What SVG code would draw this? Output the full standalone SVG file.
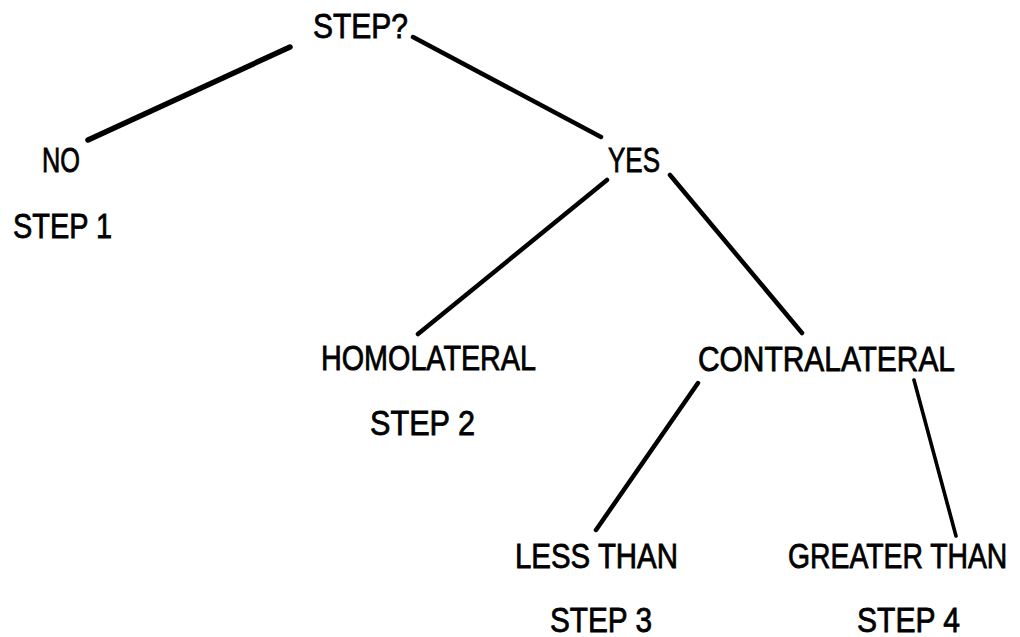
<svg xmlns="http://www.w3.org/2000/svg" width="1020" height="637" viewBox="0 0 1020 637">
<style>
.t{font-family:"Liberation Sans",Arial,sans-serif;font-size:35px;fill:#000;stroke:#000;stroke-width:0.8px}
.c line{stroke:#000;stroke-linecap:round;fill:none}
.w5{stroke-width:5.5}
.w4{stroke-width:4.5}
.w3{stroke-width:3.6}
</style>
<rect width="1020" height="637" fill="#fff"/>
<g id="connectors" class="c">
<line class="w5" x1="290" y1="47" x2="88" y2="140"/>
<line class="w4" x1="413" y1="37" x2="601" y2="137"/>
<line class="w4" x1="607" y1="180" x2="418" y2="334"/>
<line class="w4" x1="670" y1="175" x2="802" y2="333"/>
<line class="w4" x1="698" y1="383" x2="596" y2="530"/>
<line class="w3" x1="914" y1="380" x2="956" y2="536"/>
</g>
<g id="step-q"><text class="t" x="313" y="38" textLength="95" lengthAdjust="spacingAndGlyphs">STEP?</text></g>
<g id="no"><text class="t" x="42" y="172" textLength="38" lengthAdjust="spacingAndGlyphs">NO</text>
<text class="t" x="13" y="238" textLength="99" lengthAdjust="spacingAndGlyphs">STEP 1</text></g>
<g id="yes"><text class="t" x="608" y="172" textLength="52" lengthAdjust="spacingAndGlyphs">YES</text></g>
<g id="homolateral"><text class="t" x="321" y="370" textLength="215" lengthAdjust="spacingAndGlyphs">HOMOLATERAL</text>
<text class="t" x="370" y="435" textLength="105" lengthAdjust="spacingAndGlyphs">STEP 2</text></g>
<g id="contralateral"><text class="t" x="698" y="371" textLength="257" lengthAdjust="spacingAndGlyphs">CONTRALATERAL</text></g>
<g id="less-than"><text class="t" x="515" y="568" textLength="163" lengthAdjust="spacingAndGlyphs">LESS THAN</text>
<text class="t" x="550" y="632" textLength="102" lengthAdjust="spacingAndGlyphs">STEP 3</text></g>
<g id="greater-than"><text class="t" transform="translate(788,568) scale(0.81,1)" x="0" y="0">GREATER THAN</text>
<text class="t" x="857" y="632" textLength="103" lengthAdjust="spacingAndGlyphs">STEP 4</text></g>
</svg>
